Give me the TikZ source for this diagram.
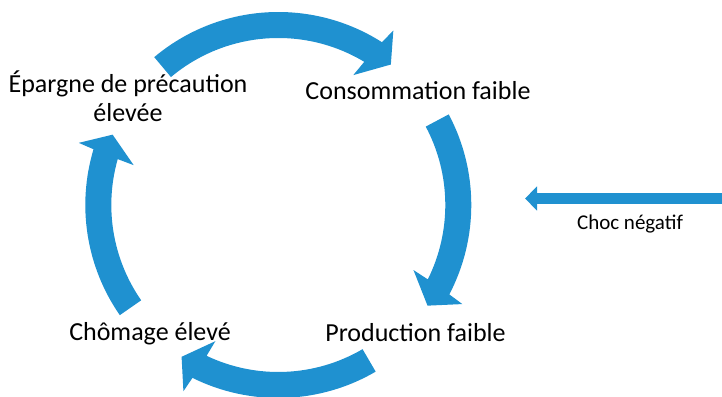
\documentclass[tikz,border=0pt]{standalone}
\usepackage{fontspec}
\setmainfont{Carlito}
\usetikzlibrary{arrows.meta}
\definecolor{cycleblue}{RGB}{31,145,208}
\newcommand\cyclearrow[4]{%
  \pgfmathsetmacro\ArrIn{#2+0.29*(#3-#2)}%
  \pgfmathsetmacro\ArrOut{#2+0.73*(#3-#2)}%
  \fill[cyclefill] (#1:193pt) arc[start angle=#1, end angle=\ArrOut, radius=193pt]
    -- (#3:209pt) -- (#4:180pt) -- (#2:150pt) -- (\ArrIn:167pt)
    arc[start angle=\ArrIn, end angle=#1, radius=167pt] -- cycle;
}
\begin{document}
\begin{tikzpicture}[x=1pt,y=1pt,
  cyclabel/.style={font=\fontsize{26}{29.4}\selectfont, inner sep=0pt, anchor=base, text=black, align=center},
  smalllabel/.style={font=\fontsize{21}{24}\selectfont, inner sep=0pt, anchor=base, text=black},
  cyclefill/.style={fill=cycleblue},
  chocarrow/.style={draw=cycleblue, line width=11.4pt, -{Triangle[length=12pt,width=23.4pt]}}]
\useasboundingbox (0,0) rectangle (722,396);
\begin{scope}[shift={(278.3,191)}]
  \cyclearrow{130}{60}{56.6}{51.3}
  \cyclearrow{28}{-25.7}{-28.3}{-34}
  \cyclearrow{-59.7}{-114.8}{-117}{-122.5}
  \cyclearrow{214.8}{164.6}{162.7}{157}
\end{scope}
\node[cyclabel] (epargne) at (128,274.3) {Épargne de précaution\\élevée};
\node[cyclabel] (conso) at (418,296.7) {Consommation faible};
\node[cyclabel] (chomage) at (150,56) {Chômage élevé};
\node[cyclabel] (prod) at (415.5,54.3) {Production faible};
\coordinate (chocstart) at (722,197.5);
\coordinate (chocend) at (525,197.5);
\draw[chocarrow] (chocstart) -- (chocend);
\node[smalllabel] (choc) at (630,166.7) {Choc négatif};
\end{tikzpicture}
\end{document}
